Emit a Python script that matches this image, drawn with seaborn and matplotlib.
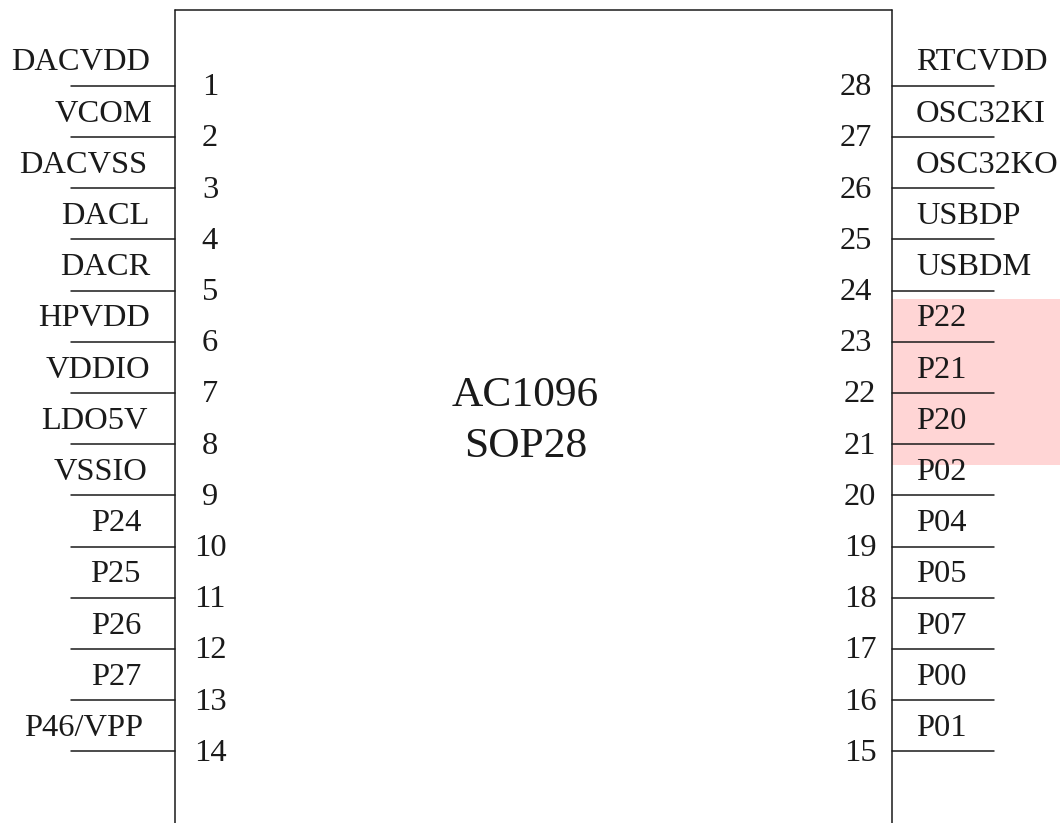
import matplotlib
matplotlib.use("Agg")
import matplotlib.pyplot as plt
import seaborn as sns

sns.set_theme(style="white")
plt.rcParams['font.family'] = ['Liberation Serif', 'DejaVu Serif']

left_names = ["DACVDD", "VCOM", "DACVSS", "DACL", "DACR", "HPVDD", "VDDIO",
              "LDO5V", "VSSIO", "P24", "P25", "P26", "P27", "P46/VPP"]
right_names = ["RTCVDD", "OSC32KI", "OSC32KO", "USBDP", "USBDM", "P22", "P21",
               "P20", "P02", "P04", "P05", "P07", "P00", "P01"]
left_pins = list(range(1, 15))
right_pins = list(range(28, 14, -1))
chip_lines = ["AC1096", "SOP28"]

W, H = 1060, 823
fig = plt.figure(figsize=(W / 100, H / 100), dpi=100)
ax = fig.add_axes([0, 0, 1, 1])
ax.set_xlim(0, W)
ax.set_ylim(H, 0)
ax.axis("off")

y0, dy = 85.7, 51.2
fs = 23.4
ink = "#1a1a1a"
left_label_x = [150, 152, 147, 150, 150, 150, 150, 148, 148, 141, 140, 141, 141, 143]
right_num_x = [856] * 6 + [860] * 8

ax.axhspan(299, 464.5, xmin=891.5 / W, xmax=1, color="#FFD5D5", lw=0, zorder=0)
ax.plot([174.5, 174.5], [H, 9.5], color=ink, lw=1.1)
ax.plot([891.5, 891.5], [H, 9.5], color=ink, lw=1.1)
ax.plot([174.5, 891.5], [9.5, 9.5], color=ink, lw=1.1)

for i, (name, pin) in enumerate(zip(left_names, left_pins)):
    y = y0 + i * dy
    ax.plot([71, 174.5], [y, y], color=ink, lw=1.1)
    ax.text(left_label_x[i], y - 15.3, name, ha="right", va="baseline", fontsize=fs, color=ink)
    ax.text(210, y + 9.5, str(pin), ha="center", va="baseline", fontsize=fs, color=ink)

for i, (name, pin) in enumerate(zip(right_names, right_pins)):
    y = y0 + i * dy
    ax.plot([891.5, 994], [y, y], color=ink, lw=1.1)
    ax.text(916, y - 15.3, name, ha="left", va="baseline", fontsize=fs, color=ink)
    ax.text(right_num_x[i], y + 9.5, str(pin), ha="center", va="baseline", fontsize=fs, color=ink)

ax.text(525, 405.7, chip_lines[0], ha="center", va="baseline", fontsize=31.3, color=ink)
ax.text(525.5, 457.4, chip_lines[1], ha="center", va="baseline", fontsize=31.3, color=ink)

fig.savefig("out.png", dpi=100, facecolor="white")
